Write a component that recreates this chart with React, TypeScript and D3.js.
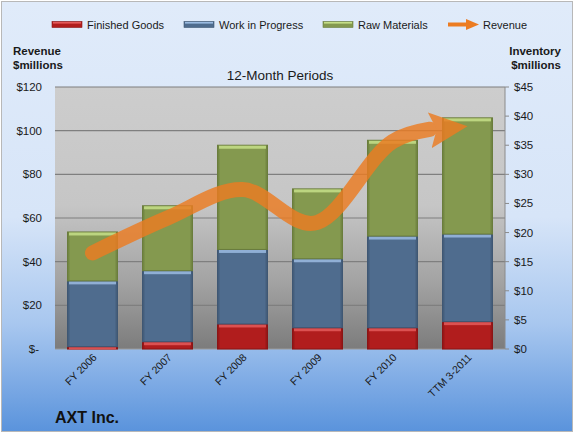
import * as d3 from 'd3';
import React, { useEffect, useRef } from 'react';

const categories = ['FY 2006', 'FY 2007', 'FY 2008', 'FY 2009', 'FY 2010', 'TTM 3-2011'];
const finishedGoods = [0.4, 1.25, 4.3, 3.65, 3.65, 4.7];
const workInProgress = [11.3, 12.2, 12.8, 11.85, 15.75, 15.05];
const rawMaterials = [8.4, 11.15, 17.9, 12.0, 16.45, 19.95];
const revenue = [44, 60, 73, 58, 95, 102];
const leftTicks = [0, 20, 40, 60, 80, 100, 120];
const rightTicks = [0, 5, 10, 15, 20, 25, 30, 35, 40, 45];

const W = 574;
const H = 433;
const plot = { left: 55, right: 505, top: 87, bottom: 349 };
const font = '"Liberation Sans", Arial, sans-serif';

const seriesInfo = [
  { key: 'Finished Goods', values: finishedGoods, fill: '#b11d1d', light: '#e45a5a', dark: '#8c1414' },
  { key: 'Work in Progress', values: workInProgress, fill: '#4f6c8e', light: '#9bbbe2', dark: '#3f5773' },
  { key: 'Raw Materials', values: rawMaterials, fill: '#84994f', light: '#c6df88', dark: '#6a7d3c' },
];

export default function App() {
  const lineRef = useRef<SVGPathElement>(null);

  const x = d3
    .scaleBand()
    .domain(categories)
    .range([plot.left, plot.right])
    .paddingInner(1 / 3)
    .paddingOuter(1 / 6);
  const yLeft = d3.scaleLinear().domain([0, 120]).range([plot.bottom, plot.top]);
  const yRight = d3.scaleLinear().domain([0, 45]).range([plot.bottom, plot.top]);

  // stacked inventory
  const rows = categories.map((c, i) => ({
    cat: c,
    'Finished Goods': finishedGoods[i],
    'Work in Progress': workInProgress[i],
    'Raw Materials': rawMaterials[i],
  }));
  const stacked = d3.stack<any>().keys(seriesInfo.map(s => s.key))(rows);

  const line = d3
    .line<number>()
    .x((_, i) => (x(categories[i]) ?? 0) + x.bandwidth() / 2)
    .y(d => yLeft(d))
    .curve(d3.curveCatmullRom.alpha(0));
  const revPath = line(revenue) ?? '';

  useEffect(() => {
    // stop the stroke short of the arrow tip so the head covers it
    const p = lineRef.current;
    if (!p) return;
    const L = p.getTotalLength();
    p.setAttribute('stroke-dasharray', `${L - 38} ${L + 10}`);
  }, []);

  return (
    <svg width={W} height={H} style={{ position: 'absolute', left: 0, top: 0 }}>
      <defs>
        <linearGradient id="bg" x1="0" y1="0" x2="0" y2="1">
          <stop offset="0" stopColor="#e0ebfa" />
          <stop offset="0.5" stopColor="#d7e5f8" />
          <stop offset="0.75" stopColor="#a8c7ef" />
          <stop offset="1" stopColor="#5a93dc" />
        </linearGradient>
        <linearGradient id="plotbg" x1="0" y1="0" x2="0" y2="1">
          <stop offset="0" stopColor="#cdcdcd" />
          <stop offset="0.45" stopColor="#c6c6c6" />
          <stop offset="0.75" stopColor="#a2a2a2" />
          <stop offset="1" stopColor="#7c7c7c" />
        </linearGradient>
        {seriesInfo.map((s, i) => (
          <linearGradient key={i} id={`bar${i}`} x1="0" y1="0" x2="1" y2="0">
            <stop offset="0" stopColor={s.dark} />
            <stop offset="0.06" stopColor={s.fill} />
            <stop offset="0.94" stopColor={s.fill} />
            <stop offset="1" stopColor={s.dark} />
          </linearGradient>
        ))}
        <marker
          id="arrow"
          markerUnits="userSpaceOnUse"
          markerWidth={40}
          markerHeight={38}
          refX={38}
          refY={18}
          orient="-6"
        >
          <path d="M0,0 L38,18 L0,36 L7,18 Z" fill="#ec7c22" />
        </marker>
      </defs>

      <rect x={1.5} y={1.5} width={W - 3} height={H - 3} fill="url(#bg)" stroke="#b8b8b8" />

      {/* legend */}
      <g fontFamily={font} fontSize={11} fill="#1a1a1a">
        {[
          { x: 52, label: 'Finished Goods', s: 0 },
          { x: 184, label: 'Work in Progress', s: 1 },
          { x: 323, label: 'Raw Materials', s: 2 },
        ].map(l => (
          <g key={l.label}>
            <rect x={l.x} y={21.5} width={30} height={6} fill={seriesInfo[l.s].fill} stroke={seriesInfo[l.s].dark} strokeWidth={0.6} />
            <rect x={l.x + 1} y={22} width={28} height={1.6} fill={seriesInfo[l.s].light} />
            <text x={l.x + 35} y={28.5}>{l.label}</text>
          </g>
        ))}
        <line x1={448} y1={24.5} x2={468} y2={24.5} stroke="#ec7c22" strokeWidth={4} />
        <path d="M466,19 L479,24.5 L466,30 Z" fill="#ec7c22" />
        <text x={483} y={28.5}>Revenue</text>
      </g>

      {/* axis titles */}
      <g fontFamily={font} fontSize={11.5} fontWeight="bold" fill="#1a1a1a">
        <text x={13} y={55}>Revenue</text>
        <text x={13} y={69}>$millions</text>
        <text x={561} y={55} textAnchor="end">Inventory</text>
        <text x={561} y={69} textAnchor="end">$millions</text>
      </g>
      <text x={(plot.left + plot.right) / 2} y={80} textAnchor="middle" fontFamily={font} fontSize={13.5} fill="#1a1a1a">
        12-Month Periods
      </text>

      {/* plot area */}
      <rect x={plot.left} y={plot.top} width={plot.right - plot.left} height={plot.bottom - plot.top} fill="url(#plotbg)" />
      {leftTicks.slice(1).map(t => (
        <line key={t} x1={plot.left} x2={plot.right} y1={yLeft(t)} y2={yLeft(t)} stroke="#7f7f7f" strokeWidth={1.2} />
      ))}
      <line x1={plot.left} x2={plot.right} y1={plot.bottom} y2={plot.bottom} stroke="#9a9a9a" />
      <line x1={plot.right} x2={plot.right} y1={plot.top} y2={plot.bottom} stroke="#8a8a8a" />
      {rightTicks.map(t => (
        <line key={t} x1={plot.right} x2={plot.right + 4} y1={yRight(t)} y2={yRight(t)} stroke="#8a8a8a" />
      ))}

      {/* bars */}
      {stacked.map((layer, si) =>
        layer.map((d, i) => {
          const bx = x(categories[i]) ?? 0;
          const y0 = yRight(d[1]);
          const h = yRight(d[0]) - yRight(d[1]);
          const s = seriesInfo[si];
          return (
            <g key={`${si}-${i}`}>
              <rect x={bx} y={y0} width={x.bandwidth()} height={h} fill={`url(#bar${si})`} stroke={s.dark} strokeWidth={1} />
              <rect x={bx + 1.5} y={y0 + 0.5} width={x.bandwidth() - 3} height={Math.min(3, h)} fill={s.light} opacity={0.85} />
            </g>
          );
        })
      )}

      {/* revenue line */}
      <g opacity={0.82}>
        <path
          ref={lineRef}
          d={revPath}
          fill="none"
          stroke="#ec7c22"
          strokeWidth={15}
          strokeLinecap="round"
          markerEnd="url(#arrow)"
        />
      </g>

      {/* left axis labels */}
      <g fontFamily={font} fontSize={11.5} fill="#1a1a1a" textAnchor="end">
        {leftTicks.map(t => (
          <text key={t} x={t === 0 ? 39 : 42} y={yLeft(t) + 4}>
            {t === 0 ? '$-' : `$${t}`}
          </text>
        ))}
      </g>
      {/* right axis labels */}
      <g fontFamily={font} fontSize={11.5} fill="#1a1a1a">
        {rightTicks.map(t => (
          <text key={t} x={514} y={yRight(t) + 4}>{`$${t}`}</text>
        ))}
      </g>
      {/* category labels */}
      <g fontFamily={font} fontSize={10.5} fill="#1a1a1a">
        {categories.map(c => {
          const cx = (x(c) ?? 0) + x.bandwidth() / 2 + 5;
          const cy = 358;
          return (
            <text key={c} transform={`translate(${cx},${cy}) rotate(-45)`} textAnchor="end">
              {c}
            </text>
          );
        })}
      </g>

      <text x={55} y={423} fontFamily={font} fontSize={16} fontWeight="bold" fill="#111">
        AXT Inc.
      </text>
    </svg>
  );
}
